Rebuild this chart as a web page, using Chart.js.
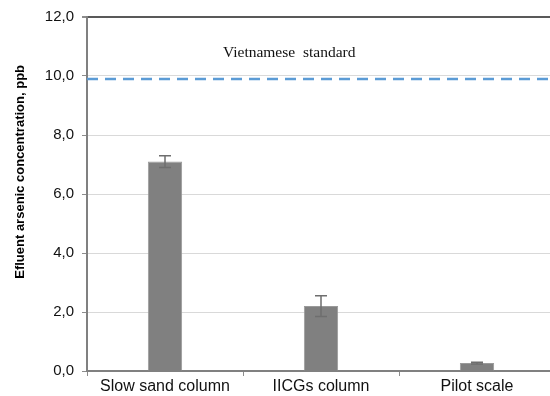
<!DOCTYPE html>
<html>
<head>
<meta charset="utf-8">
<script src="https://cdn.jsdelivr.net/npm/chart.js@4"></script>
<style>
    html, body { margin: 0; padding: 0; background: #fff; overflow: hidden; }
    #wrap { width: 560px; height: 396px; }
</style>
</head>
<body>
<div id="wrap"><canvas id="myBarChart"></canvas></div>
<script>
const categories = ["Slow sand column", "IICGs column", "Pilot scale"];
const values = [7.1, 2.2, 0.27];
const errors = [0.2, 0.35, 0.03];
const standardValue = 9.9;
const standardLabel = "Vietnamese  standard";
const yTitle = "Efluent arsenic concentration, ppb";
const yTicks = [0, 2, 4, 6, 8, 10, 12];

// error bars, standard line, its label and the axis title
const overlay = {
    id: "overlay",
    afterDatasetsDraw(chart) {
        const { ctx, chartArea, scales } = chart;
        const y = scales.y;
        ctx.save();

        const meta = chart.getDatasetMeta(0);
        ctx.strokeStyle = "#6e6e6e";
        ctx.lineWidth = 1.5;
        meta.data.forEach(function (bar, i) {
            const top = y.getPixelForValue(values[i] + errors[i]);
            const bot = y.getPixelForValue(values[i] - errors[i]);
            ctx.beginPath();
            ctx.moveTo(bar.x, top);
            ctx.lineTo(bar.x, bot);
            ctx.moveTo(bar.x - 6, top);
            ctx.lineTo(bar.x + 6, top);
            ctx.moveTo(bar.x - 6, bot);
            ctx.lineTo(bar.x + 6, bot);
            ctx.stroke();
        });

        const ys = y.getPixelForValue(standardValue);
        ctx.strokeStyle = "#5b9bd5";
        ctx.lineWidth = 2.5;
        ctx.setLineDash([11, 7]);
        ctx.beginPath();
        ctx.moveTo(chartArea.left, ys);
        ctx.lineTo(chartArea.right, ys);
        ctx.stroke();
        ctx.setLineDash([]);

        ctx.fillStyle = "#111";
        ctx.font = '15.5px "Liberation Serif"';
        ctx.textAlign = "center";
        ctx.textBaseline = "alphabetic";
        const tx = chartArea.left + (chartArea.right - chartArea.left) * 0.432;
        ctx.fillText(standardLabel, tx, y.getPixelForValue(10.65));

        // y title sits a bit above the plot centre, as in the original
        ctx.translate(20, y.getPixelForValue(6.75));
        ctx.rotate(-Math.PI / 2);
        ctx.font = 'bold 13px "Liberation Sans"';
        ctx.textBaseline = "middle";
        ctx.fillStyle = "#000";
        ctx.fillText(yTitle, 0, 0);
        ctx.restore();
    },
};

document.addEventListener("DOMContentLoaded", function () {
    const ctx = document.getElementById("myBarChart").getContext("2d");

    const data = {
        labels: categories,
        datasets: [
            {
                label: "Effluent arsenic",
                data: values,
                backgroundColor: "#808080",
                borderColor: "#9a9a9a",
                borderWidth: 1,
                categoryPercentage: 1,
                barPercentage: 0.22,
            },
        ],
    };

    const options = {
        responsive: true,
        maintainAspectRatio: false,
        animation: false,
        layout: { padding: { top: 17, right: 5, left: 0, bottom: 0 } },
        plugins: {
            legend: { display: false },
            tooltip: { enabled: false },
        },
        scales: {
            x: {
                grid: {
                    offset: true,
                    drawOnChartArea: false,
                    drawTicks: true,
                    tickLength: 5,
                    color: "#8c8c8c",
                },
                border: { color: "#808080", width: 2 },
                ticks: {
                    color: "#111",
                    font: { family: "Liberation Sans", size: 16 },
                    padding: 1,
                    maxRotation: 0,
                },
                afterFit: function (scale) { scale.height = 25; },
            },
            y: {
                min: 0,
                max: 12,
                afterBuildTicks: function (scale) {
                    scale.ticks = yTicks.map(function (v) { return { value: v }; });
                },
                grid: {
                    color: function (c) { return c.tick && c.tick.value === 12 ? "#595959" : "#d9d9d9"; },
                    lineWidth: function (c) { return c.tick && c.tick.value === 12 ? 2 : 1; },
                    tickColor: "#8c8c8c",
                    tickLength: 5,
                },
                border: { color: "#808080", width: 2 },
                ticks: {
                    color: "#111",
                    font: { family: "Liberation Sans", size: 15 },
                    padding: 8,
                    callback: function (v) { return v.toFixed(1).replace(".", ","); },
                },
                afterFit: function (scale) { scale.width = 87; },
            },
        },
    };

    new Chart(ctx, {
        type: "bar",
        data: data,
        options: options,
        plugins: [overlay],
    });
});
</script>
</body>
</html>
